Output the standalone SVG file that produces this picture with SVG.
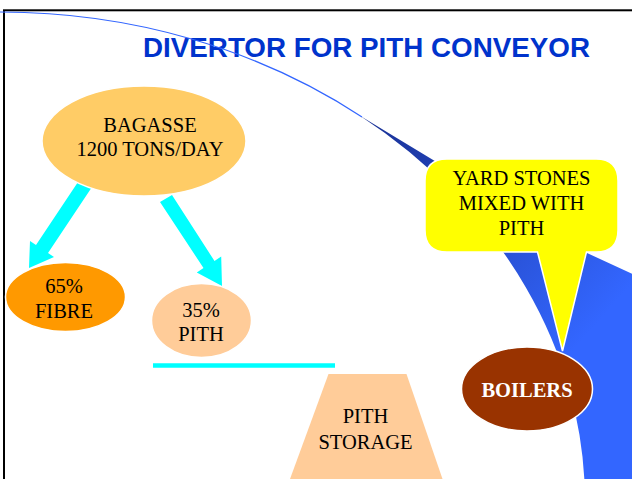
<svg xmlns="http://www.w3.org/2000/svg" width="632" height="479" viewBox="0 0 632 479">
  <defs>
    <linearGradient id="blueGrad" gradientUnits="userSpaceOnUse" x1="380" y1="125" x2="600" y2="320">
      <stop offset="0" stop-color="#1a3399"/>
      <stop offset="1" stop-color="#3366ff"/>
    </linearGradient>
    <style>
      .lbl { font-family: "Liberation Serif", "Times New Roman", serif; font-size: 20.5px; fill: #000; text-anchor: middle; }
      .bold { font-weight: bold; fill: #fff; }
      .title { font-family: "Liberation Sans", Arial, sans-serif; font-weight: bold; font-size: 27px; fill: #0033cc; }
      .arrow { fill: #00ffff; }
      .node { stroke: #fff; stroke-width: 1.5; }
    </style>
  </defs>
  <rect x="4" y="10.3" width="700" height="600" fill="#fff" stroke="#000" stroke-width="2"/>
  <g id="sweep">
    <path d="M 360,115.8 A 585 490 0 0 1 585,502 L 585,520 L 700,520 L 700,305 L 587,253 Z" fill="url(#blueGrad)"/>
  </g>
  <text class="title" x="143" y="57" textLength="447" lengthAdjust="spacingAndGlyphs">DIVERTOR FOR PITH CONVEYOR</text>
  <path d="M 0,12 A 585 490 0 0 1 362,117" fill="none" stroke="#3366ff" stroke-width="1.2"/>
  <g id="connectors">
    <polygon class="arrow" points="80,179 92,187 48,253 54,257 29,268 30,241 36,245"/>
    <polygon class="arrow" points="160,202 172,195 214.5,261 221.2,256.6 222,286 196.8,272.4 203.5,268"/>
    <line x1="153" y1="365.5" x2="335" y2="365.5" stroke="#00ffff" stroke-width="4.5"/>
  </g>
  <g id="bagasse">
    <ellipse class="node" cx="144" cy="141" rx="102" ry="55" fill="#ffcc66"/>
    <text class="lbl" x="150" y="132">BAGASSE</text>
    <text class="lbl" x="150" y="156">1200 TONS/DAY</text>
  </g>
  <g id="fibre">
    <ellipse class="node" cx="65.5" cy="297" rx="60" ry="34.5" fill="#ff9900"/>
    <text class="lbl" x="64" y="293">65%</text>
    <text class="lbl" x="64" y="318">FIBRE</text>
  </g>
  <g id="pith">
    <ellipse class="node" cx="201.5" cy="320.5" rx="50" ry="37" fill="#ffcc99"/>
    <text class="lbl" x="201" y="316.5">35%</text>
    <text class="lbl" x="201" y="341">PITH</text>
  </g>
  <g id="pith-storage">
    <polygon points="328.5,374 406.5,374 442.5,479 290,479" fill="#ffcc99"/>
    <text class="lbl" x="365.5" y="423">PITH</text>
    <text class="lbl" x="365.5" y="449">STORAGE</text>
  </g>
  <g id="callout">
    <path d="M 447,159 L 596,159 Q 618,159 618,181 L 618,230 Q 618,252 596,252 L 586.5,252 L 562.5,351 L 537.5,252 L 447,252 Q 425,252 425,230 L 425,181 Q 425,159 447,159 Z" fill="#ffff00" stroke="#fff" stroke-width="1.5"/>
    <text class="lbl" x="521.5" y="185">YARD STONES</text>
    <text class="lbl" x="521.5" y="210">MIXED WITH</text>
    <text class="lbl" x="521.5" y="235">PITH</text>
  </g>
  <g id="boilers">
    <ellipse class="node" cx="527" cy="389" rx="65.5" ry="42" fill="#993300"/>
    <text class="lbl bold" x="527" y="397">BOILERS</text>
  </g>
</svg>
